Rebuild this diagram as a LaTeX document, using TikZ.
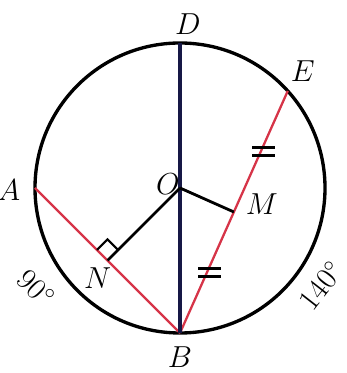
\documentclass[tikz,border=0pt]{standalone}
\usepackage{amsmath}
\usepackage{tikz}
\usetikzlibrary{calc}
\definecolor{rosso}{RGB}{214,52,72}
\definecolor{blunotte}{RGB}{22,24,70}

\begin{document}
\begin{tikzpicture}[auto, >=latex, font=\LARGE]
        % Stili
        \tikzstyle{cerchio} = [draw, line width=1.9pt]
        \tikzstyle{corda} = [draw=rosso, line width=1.3pt]
        \tikzstyle{diametro} = [draw=blunotte, line width=1.9pt]
        \tikzstyle{raggio} = [draw, line width=1.6pt]
        \tikzstyle{segno} = [draw, line width=1.2pt]
        \tikzstyle{etichetta} = [inner sep=1pt]

        \useasboundingbox (-3.6,-3.7) rectangle (3.32,3.76);

        % Punti
        \coordinate (O) at (0,0);
        \coordinate (A) at (180:2.9);
        \coordinate (B) at (270:2.9);
        \coordinate (D) at (90:2.9);
        \coordinate (E) at (42:2.9);
        \coordinate (N) at ($(A)!0.5!(B)$);
        \coordinate (M) at ($(B)!0.5!(E)$);
        \coordinate (ME) at ($(M)!0.5!(E)$);
        \coordinate (BM) at ($(B)!0.5!(M)$);

        % Cerchio e segmenti
        \draw [cerchio] (O) circle (2.9);
        \draw [corda] (A) -- (B);
        \draw [corda] (B) -- (E);
        \draw [diametro] (D) -- (B);
        \draw [raggio] (O) -- (N);
        \draw [raggio] (O) -- (M);

        % Angolo retto
        \draw [segno] ($(N)!0.3cm!(A)$) -- ++(45:0.3) -- ($(N)!0.3cm!(O)$);

        % Segmenti uguali
        \draw [segno] ($(ME)+(-0.17,0.08)$) -- ++(0.45,0);
        \draw [segno] ($(ME)+(-0.17,-0.08)$) -- ++(0.45,0);
        \draw [segno] ($(BM)+(-0.17,0.08)$) -- ++(0.45,0);
        \draw [segno] ($(BM)+(-0.17,-0.08)$) -- ++(0.45,0);

        % Etichette
        \node [etichetta] (lD) at ($(D)+(0.16,0.38)$) {$D$};
        \node [etichetta] (lE) at ($(E)+(0.3,0.4)$) {$E$};
        \node [etichetta] (lA) at ($(A)+(-0.52,-0.04)$) {$A$};
        \node [etichetta] (lB) at ($(B)+(0,-0.48)$) {$B$};
        \node [etichetta] (lO) at ($(O)+(-0.24,0.08)$) {$O$};
        \node [etichetta] (lM) at ($(M)+(0.56,0.16)$) {$M$};
        \node [etichetta] (lN) at ($(N)+(-0.2,-0.36)$) {$N$};
        \node [etichetta, rotate=-45] (l90) at (-2.88,-2.0) {$90^{\circ}$};
        \node [etichetta, rotate=52] (l140) at (2.82,-1.95) {$140^{\circ}$};
    \end{tikzpicture}
\end{document}
